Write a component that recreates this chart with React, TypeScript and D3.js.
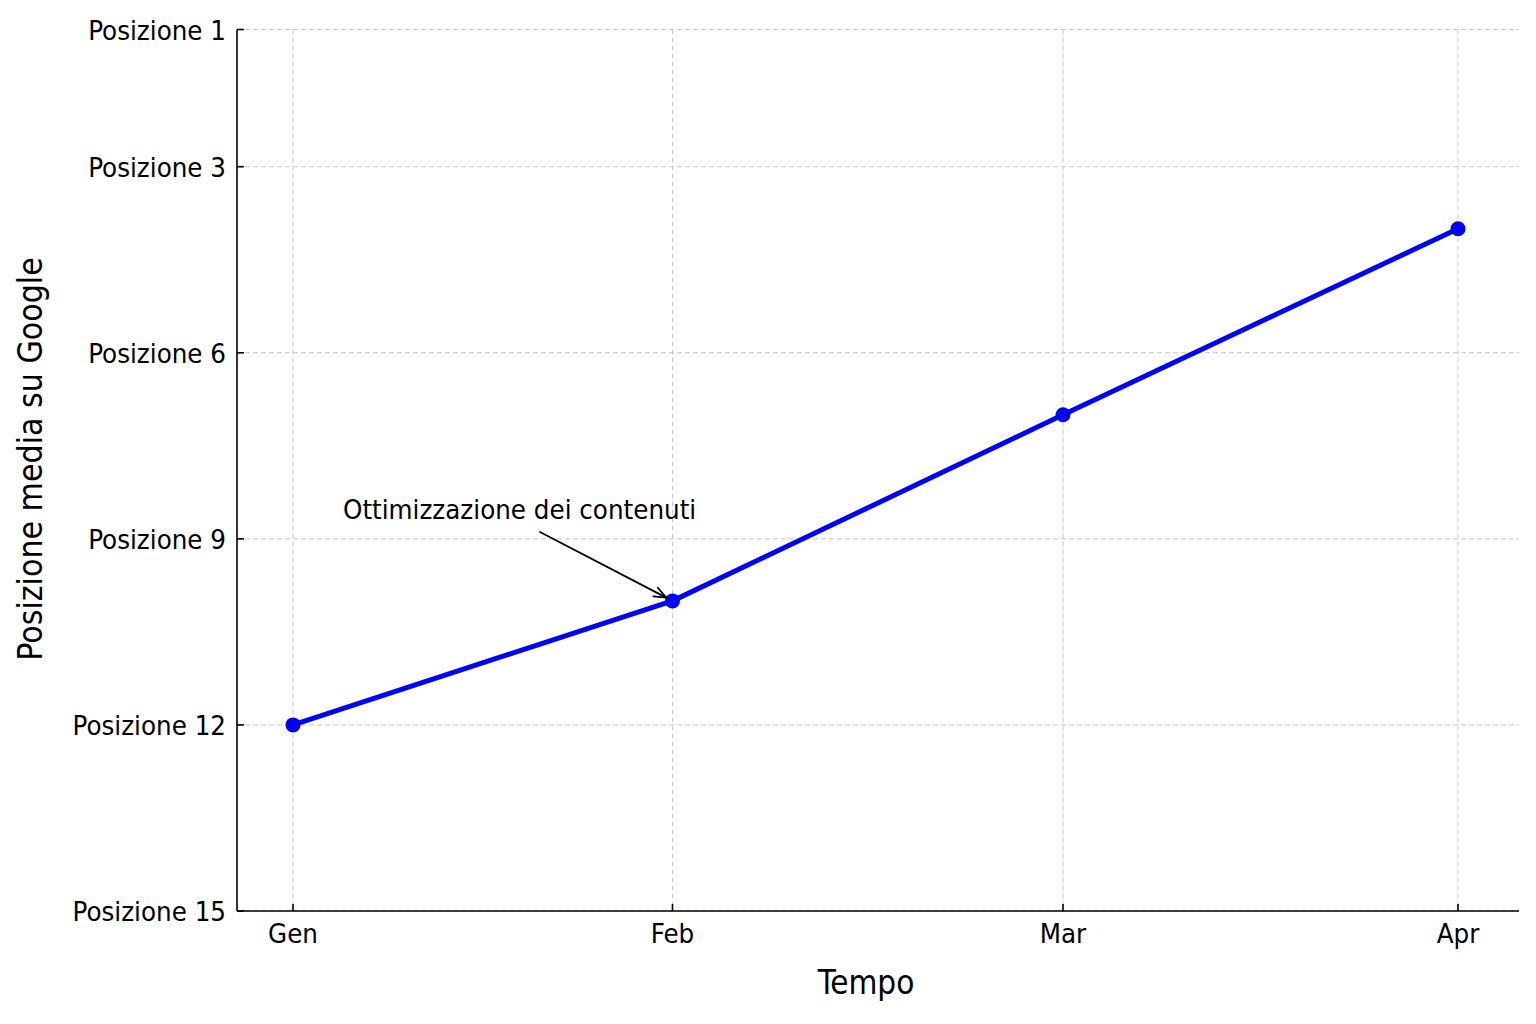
import React from "react";
import * as d3 from "d3";

const months = ["Gen", "Feb", "Mar", "Apr"];
const avgPosition = [12, 10, 7, 4];
const yTickValues = [1, 3, 6, 9, 12, 15];
const yTickLabels = ["Posizione 1", "Posizione 3", "Posizione 6", "Posizione 9", "Posizione 12", "Posizione 15"];
const annotationText = "Ottimizzazione dei contenuti";
const annotationIndex = 1;

const W = 1536;
const H = 1024;
const FONT = "'DejaVu Sans Condensed', 'DejaVu Sans', sans-serif";

export default function App() {
  const left = 237;
  const right = 1519;
  const top = 29.5;
  const bottom = 911;

  const x = d3
    .scaleLinear()
    .domain([0, 1, 2, 3])
    .range([293, 672.5, 1063, 1458]);
  const y = d3.scaleLinear().domain([15, 3, 1]).range([bottom, 166.7, top]);

  const line = d3
    .line<number>()
    .x((_, i) => x(i))
    .y((d) => y(d));

  // annotation geometry
  const px = x(annotationIndex);
  const py = y(avgPosition[annotationIndex]);
  const tail: [number, number] = [540, 532];
  const dx = px - tail[0];
  const dy = py - tail[1];
  const len = Math.hypot(dx, dy);
  const ux = dx / len;
  const uy = dy / len;
  const tip: [number, number] = [px - ux * 7, py - uy * 7];
  const headLen = 13;
  const ang = (22 * Math.PI) / 180;
  const rot = (a: number): [number, number] => [
    tip[0] - headLen * (ux * Math.cos(a) - uy * Math.sin(a)),
    tip[1] - headLen * (ux * Math.sin(a) + uy * Math.cos(a)),
  ];
  const h1 = rot(ang);
  const h2 = rot(-ang);

  return (
    <svg
      width={W}
      height={H}
      viewBox={`0 0 ${W} ${H}`}
      style={{ position: "absolute", left: 0, top: 0, background: "#fff" }}
    >
      <rect x={0} y={0} width={W} height={H} fill="#fff" />
      {/* grid */}
      <g stroke="#c8c8c8" strokeWidth={1} strokeDasharray="5,3">
        {months.map((m, i) => (
          <line key={m} x1={x(i)} x2={x(i)} y1={top} y2={bottom} />
        ))}
        {yTickValues.map((v) => (
          <line key={v} x1={left} x2={right} y1={y(v)} y2={y(v)} />
        ))}
      </g>

      {/* axes */}
      <g stroke="#000" strokeWidth={1.6} fill="none">
        <line x1={left} x2={left} y1={top} y2={bottom} />
        <line x1={left} x2={right} y1={bottom} y2={bottom} />
        {months.map((m, i) => (
          <line key={m} x1={x(i)} x2={x(i)} y1={bottom} y2={bottom - 7} />
        ))}
        {yTickValues.map((v) => (
          <line key={v} x1={left} x2={left + 7} y1={y(v)} y2={y(v)} />
        ))}
      </g>

      {/* tick labels */}
      <g fontFamily={FONT} fontSize={27.4} fill="#000">
        {months.map((m, i) => (
          <text key={m} x={x(i)} y={bottom + 31.5} textAnchor="middle">
            {m}
          </text>
        ))}
        {yTickValues.map((v, i) => (
          <text key={v} x={left - 11} y={y(v) + 10} textAnchor="end">
            {yTickLabels[i]}
          </text>
        ))}
      </g>

      {/* axis titles */}
      <text
        x={866}
        y={994}
        textAnchor="middle"
        fontFamily={FONT}
        fontSize={33}
        fill="#000"
      >
        Tempo
      </text>
      <text
        transform={`translate(42, 459) rotate(-90)`}
        textAnchor="middle"
        fontFamily={FONT}
        fontSize={33.5}
        fill="#000"
      >
        Posizione media su Google
      </text>

      {/* data line */}
      <path d={line(avgPosition) ?? ""} fill="none" stroke="#0000ff" strokeWidth={5} strokeLinejoin="round" />
      {avgPosition.map((v, i) => (
        <circle key={i} cx={x(i)} cy={y(v)} r={7.5} fill="#0000ff" />
      ))}

      {/* annotation */}
      <text x={343} y={518.5} fontFamily={FONT} fontSize={27.4} fill="#000">
        {annotationText}
      </text>
      <g stroke="#000" strokeWidth={1.8} fill="none" strokeLinecap="round">
        <line x1={tail[0]} y1={tail[1]} x2={tip[0]} y2={tip[1]} />
        <polyline points={`${h1[0]},${h1[1]} ${tip[0]},${tip[1]} ${h2[0]},${h2[1]}`} />
      </g>
    </svg>
  );
}
